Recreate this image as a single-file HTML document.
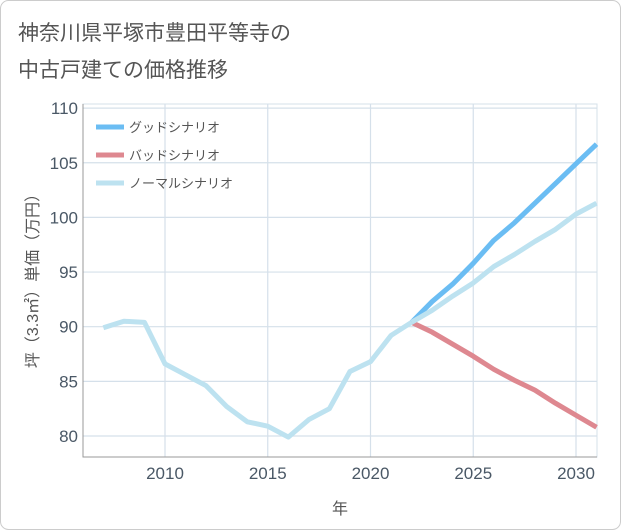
<!DOCTYPE html>
<html><head><meta charset="utf-8"><style>
body{margin:0;background:#fff;}
svg{display:block;font-family:"Liberation Sans","Noto Sans CJK JP",sans-serif;}
</style></head><body>
<svg width="621" height="530">
<rect x="0.5" y="0.5" width="620" height="529" rx="8" fill="#fff" stroke="#ccc"/>
<text x="18" y="40" font-size="21" fill="#555">神奈川県平塚市豊田平等寺の</text>
<text x="18" y="77" font-size="21" fill="#555">中古戸建ての価格推移</text>
<g id="grid"></g>
<rect x="83" y="104" width="514" height="353" fill="none" stroke="#d5e0ea"/>
<path d="M83 104 V457 H597" fill="none" stroke="#999"/>
<g id="series"></g>
<g id="ticks"></g>
<text x="340" y="514" font-size="16" fill="#555" text-anchor="middle">年</text>
<text transform="translate(38,277) rotate(-90)" font-size="16" fill="#555" text-anchor="middle">坪（3.3㎡）単価（万円）</text>
<g>
<line x1="96" y1="127" x2="124" y2="127" stroke="#6bbdf3" stroke-width="5"/>
<text x="129" y="132" font-size="13" fill="#555">グッドシナリオ</text>
<line x1="96" y1="155" x2="124" y2="155" stroke="#de8890" stroke-width="5"/>
<text x="129" y="160" font-size="13" fill="#555">バッドシナリオ</text>
<line x1="96" y1="183" x2="124" y2="183" stroke="#bde2f0" stroke-width="5"/>
<text x="129" y="188" font-size="13" fill="#555">ノーマルシナリオ</text>
</g>
</svg>
<script>
const histYears=[2007,2008,2009,2010,2011,2012,2013,2014,2015,2016,2017,2018,2019,2020,2021,2022];
const histValues=[89.9,90.5,90.4,86.6,85.6,84.6,82.7,81.3,80.9,79.9,81.5,82.5,85.9,86.8,89.2,90.4];
const futYears=[2022,2023,2024,2025,2026,2027,2028,2029,2030,2031];
const goodValues=[90.4,92.3,93.9,95.8,97.9,99.5,101.3,103.1,104.9,106.7];
const normalValues=[90.4,91.5,92.8,94.0,95.5,96.6,97.8,98.9,100.3,101.3];
const badValues=[90.4,89.5,88.4,87.3,86.1,85.1,84.2,83.0,81.9,80.8];
const xTicks=[2010,2015,2020,2025,2030];
const yTicks=[80,85,90,95,100,105,110];
const NS="http://www.w3.org/2000/svg";
const X=y=>165+(y-2010)*20.55;
const Y=v=>436-(v-80)*10.93;
const grid=document.getElementById('grid'),ticks=document.getElementById('ticks'),series=document.getElementById('series');
function mk(tag,attrs,parent){const e=document.createElementNS(NS,tag);for(const k in attrs)e.setAttribute(k,attrs[k]);parent.appendChild(e);return e;}
xTicks.forEach(t=>{
 const l=mk('line',{x1:X(t),x2:X(t),y1:104,y2:457,stroke:'#d5e0ea','stroke-width':1.2},grid);
 
 
 const tx=mk('text',{x:X(t),y:479,'font-size':17,fill:'#4a5866','text-anchor':'middle'},ticks);
 tx.textContent=t;
 
 
});
yTicks.forEach(t=>{
 const l=mk('line',{x1:83,x2:597,y1:Y(t),y2:Y(t),stroke:'#d5e0ea','stroke-width':1.2},grid);
 
 
 const tx=mk('text',{x:78,y:Y(t)+6,'font-size':17,fill:'#4a5866','text-anchor':'end'},ticks);
 tx.textContent=t;
 
 
});
function line(xs,vs,color,name){
 const p=mk('polyline',{points:xs.map((x,i)=>X(x)+','+Y(vs[i])).join(' '),fill:'none',stroke:color,'stroke-width':5,'stroke-linejoin':'round'},series);
 
 
}
line(futYears,badValues,'#de8890','bad-line');
line(futYears,goodValues,'#6bbdf3','good-line');
line(futYears,normalValues,'#bde2f0','normal-line');
line(histYears,histValues,'#bde2f0','history-line');
</script>
</body></html>
